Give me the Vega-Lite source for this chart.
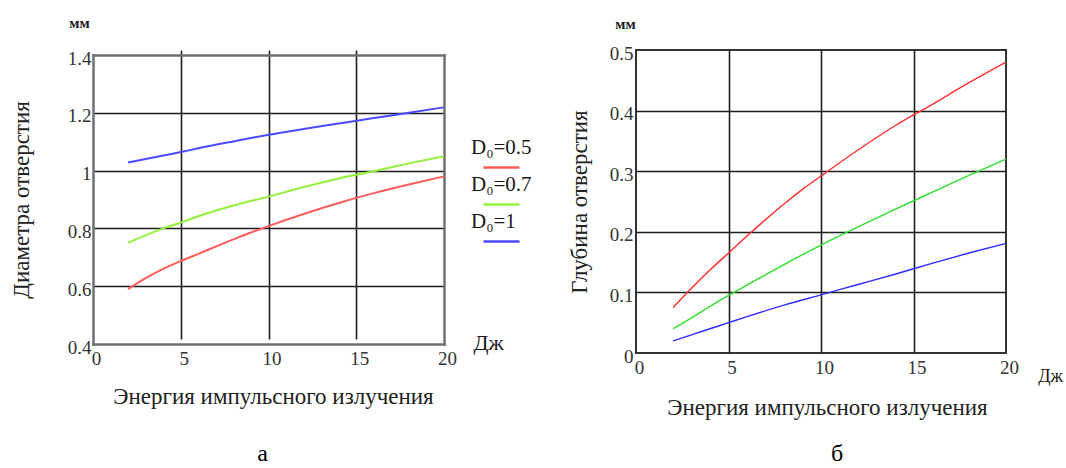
{
  "$schema": "https://vega.github.io/schema/vega-lite/v6.json",
  "background": "white",
  "padding": {"left": 10, "top": 15, "right": 2, "bottom": 0},
  "config": {
    "font": "Liberation Serif",
    "axis": {
      "labelFont": "Liberation Serif",
      "titleFont": "Liberation Serif",
      "titleFontWeight": "normal",
      "labelColor": "#333333",
      "titleColor": "#222222"
    }
  },
  "columns": 2,
  "align": "none",
  "spacing": 35,
  "resolve": {"scale": {"color": "independent"}},
  "concat": [
    {
      "width": 351,
      "height": 294,
      "view": {"stroke": null},
      "title": {"text": "а", "orient": "bottom", "anchor": "middle", "fontSize": 24, "fontWeight": "normal", "font": "Liberation Serif", "color": "#000000", "offset": 34, "dx": -6},
      "data": {"values": [
        {"s": "D₀=0.5", "E": 2, "v": 0.59}, {"s": "D₀=0.5", "E": 3, "v": 0.628}, {"s": "D₀=0.5", "E": 4, "v": 0.66}, {"s": "D₀=0.5", "E": 5, "v": 0.687}, {"s": "D₀=0.5", "E": 6, "v": 0.712}, {"s": "D₀=0.5", "E": 8, "v": 0.762}, {"s": "D₀=0.5", "E": 10, "v": 0.808}, {"s": "D₀=0.5", "E": 12, "v": 0.85}, {"s": "D₀=0.5", "E": 14, "v": 0.888}, {"s": "D₀=0.5", "E": 16, "v": 0.922}, {"s": "D₀=0.5", "E": 18, "v": 0.952}, {"s": "D₀=0.5", "E": 20, "v": 0.98},
        {"s": "D₀=0.7", "E": 2, "v": 0.75}, {"s": "D₀=0.7", "E": 4, "v": 0.8}, {"s": "D₀=0.7", "E": 5, "v": 0.82}, {"s": "D₀=0.7", "E": 6, "v": 0.842}, {"s": "D₀=0.7", "E": 8, "v": 0.879}, {"s": "D₀=0.7", "E": 10, "v": 0.91}, {"s": "D₀=0.7", "E": 12, "v": 0.943}, {"s": "D₀=0.7", "E": 14, "v": 0.973}, {"s": "D₀=0.7", "E": 16, "v": 0.998}, {"s": "D₀=0.7", "E": 18, "v": 1.025}, {"s": "D₀=0.7", "E": 20, "v": 1.05},
        {"s": "D₀=1", "E": 2, "v": 1.028}, {"s": "D₀=1", "E": 4, "v": 1.052}, {"s": "D₀=1", "E": 5, "v": 1.064}, {"s": "D₀=1", "E": 6, "v": 1.077}, {"s": "D₀=1", "E": 8, "v": 1.101}, {"s": "D₀=1", "E": 10, "v": 1.124}, {"s": "D₀=1", "E": 12, "v": 1.144}, {"s": "D₀=1", "E": 14, "v": 1.163}, {"s": "D₀=1", "E": 16, "v": 1.182}, {"s": "D₀=1", "E": 18, "v": 1.2}, {"s": "D₀=1", "E": 20, "v": 1.219}
      ]},
      "layer": [
        {
          "mark": {"type": "line", "interpolate": "monotone", "strokeWidth": 2},
          "encoding": {
            "x": {"field": "E", "type": "quantitative", "scale": {"domain": [0, 20], "nice": false, "zero": false},
              "axis": {"orient": "bottom", "values": [0, 5, 10, 15, 20], "grid": true, "gridColor": "#1e1e1e", "gridWidth": 1.6,
                "gridOpacity": {"condition": {"test": "datum.value == 0 || datum.value == 20", "value": 0}, "value": 1},
                "domain": true, "domainColor": "#707070", "domainWidth": 2.5, "domainCap": "square",
                "ticks": false, "labelFontSize": 19, "labelPadding": 5, "labelOffset": 3, "labelFlush": false,
                "title": "Энергия импульсного излучения", "titleFontSize": 23, "titlePadding": 17, "titleX": 180, "titleAlign": "center"}},
            "y": {"field": "v", "type": "quantitative", "scale": {"domain": [0.4, 1.4], "nice": false, "zero": false, "range": [294, 5]},
              "axis": {"orient": "left", "values": [0.4, 0.6, 0.8, 1, 1.2, 1.4], "format": "~g", "grid": true, "gridColor": "#1e1e1e", "gridWidth": 1.6,
                "gridOpacity": {"condition": {"test": "datum.value < 0.41 || datum.value > 1.39", "value": 0}, "value": 1},
                "domain": true, "domainColor": "#707070", "domainWidth": 2.5, "domainCap": "square",
                "ticks": false, "labelFontSize": 19, "labelPadding": 2, "labelOffset": 3, "labelFlush": false,
                "title": "Диаметра отверстия", "titleFontSize": 23, "titlePadding": 34}},
            "color": {"field": "s", "type": "nominal",
              "scale": {"domain": ["D₀=0.5", "D₀=0.7", "D₀=1"], "range": ["#ff5c5c", "#95f03c", "#4b4bff"]},
              "legend": {"orient": "none", "legendX": 389, "legendY": 98, "title": null, "symbolType": "stroke", "symbolSize": 1296,
                "symbolStrokeWidth": 2.5, "labelFont": "Liberation Serif", "labelFontSize": 21, "labelColor": "#1a1a1a",
                "labelOffset": -50, "labelLimit": 0, "rowPadding": 0, "padding": 0,
                "encode": {"labels": {"update": {"dy": {"value": -20}}}}}}
          }
        },
        {
          "mark": {"type": "line", "opacity": 0},
          "encoding": {
            "x": {"field": "E", "type": "quantitative", "scale": {"domain": [0, 20], "nice": false, "zero": false},
              "axis": {"orient": "top", "offset": -5, "labels": false, "ticks": false, "grid": false,
                "domain": true, "domainColor": "#707070", "domainWidth": 2.5, "domainCap": "square",
                "title": "мм", "titleAngle": 0, "titleX": -14, "titleY": -33, "titleAlign": "center", "titleBaseline": "middle",
                "titleFontSize": 15, "titleFontWeight": "bold", "titleColor": "#1a1a1a"}},
            "y": {"field": "v", "type": "quantitative", "scale": {"domain": [0.4, 1.4], "nice": false, "zero": false, "range": [294, 5]},
              "axis": {"orient": "right", "labels": false, "ticks": false, "grid": false,
                "domain": true, "domainColor": "#707070", "domainWidth": 2.5, "domainCap": "square",
                "title": "Дж", "titleAngle": 0, "titleX": 44, "titleY": 292, "titleAlign": "center", "titleBaseline": "middle",
                "titleFontSize": 22, "titleColor": "#1a1a1a"}},
            "detail": {"field": "s"}
          }
        }
      ],
      "resolve": {"scale": {"x": "independent", "y": "independent"}, "axis": {"x": "independent", "y": "independent"}}
    },
    {
      "width": 370,
      "height": 303,
      "view": {"stroke": "#333333", "strokeWidth": 2},
      "title": {"text": "б", "orient": "bottom", "anchor": "middle", "fontSize": 24, "fontWeight": "normal", "font": "Liberation Serif", "color": "#000000", "offset": 23, "dx": 16},
      "data": {"values": [
        {"s": "D₀=0.5", "E": 2, "v": 0.075}, {"s": "D₀=0.5", "E": 3, "v": 0.107}, {"s": "D₀=0.5", "E": 4, "v": 0.137}, {"s": "D₀=0.5", "E": 5, "v": 0.165}, {"s": "D₀=0.5", "E": 6, "v": 0.193}, {"s": "D₀=0.5", "E": 7, "v": 0.22}, {"s": "D₀=0.5", "E": 8, "v": 0.246}, {"s": "D₀=0.5", "E": 9, "v": 0.27}, {"s": "D₀=0.5", "E": 10, "v": 0.292}, {"s": "D₀=0.5", "E": 12, "v": 0.335}, {"s": "D₀=0.5", "E": 14, "v": 0.375}, {"s": "D₀=0.5", "E": 16, "v": 0.41}, {"s": "D₀=0.5", "E": 18, "v": 0.446}, {"s": "D₀=0.5", "E": 20, "v": 0.48},
        {"s": "D₀=0.7", "E": 2, "v": 0.04}, {"s": "D₀=0.7", "E": 3, "v": 0.058}, {"s": "D₀=0.7", "E": 4, "v": 0.077}, {"s": "D₀=0.7", "E": 5, "v": 0.095}, {"s": "D₀=0.7", "E": 6, "v": 0.112}, {"s": "D₀=0.7", "E": 8, "v": 0.146}, {"s": "D₀=0.7", "E": 10, "v": 0.178}, {"s": "D₀=0.7", "E": 12, "v": 0.208}, {"s": "D₀=0.7", "E": 14, "v": 0.237}, {"s": "D₀=0.7", "E": 16, "v": 0.265}, {"s": "D₀=0.7", "E": 18, "v": 0.293}, {"s": "D₀=0.7", "E": 20, "v": 0.32},
        {"s": "D₀=1", "E": 2, "v": 0.02}, {"s": "D₀=1", "E": 3, "v": 0.03}, {"s": "D₀=1", "E": 4, "v": 0.04}, {"s": "D₀=1", "E": 5, "v": 0.05}, {"s": "D₀=1", "E": 6, "v": 0.06}, {"s": "D₀=1", "E": 8, "v": 0.079}, {"s": "D₀=1", "E": 10, "v": 0.096}, {"s": "D₀=1", "E": 12, "v": 0.113}, {"s": "D₀=1", "E": 14, "v": 0.13}, {"s": "D₀=1", "E": 16, "v": 0.148}, {"s": "D₀=1", "E": 18, "v": 0.165}, {"s": "D₀=1", "E": 20, "v": 0.181}
      ]},
      "layer": [
        {
          "mark": {"type": "line", "interpolate": "monotone", "strokeWidth": 1.4},
          "encoding": {
            "x": {"field": "E", "type": "quantitative", "scale": {"domain": [0, 20], "nice": false, "zero": false},
              "axis": {"orient": "bottom", "values": [0, 5, 10, 15, 20], "grid": true, "gridColor": "#1e1e1e", "gridWidth": 1.6,
                "gridOpacity": {"condition": {"test": "datum.value == 0 || datum.value == 20", "value": 0}, "value": 1},
                "domain": false, "ticks": false, "labelFontSize": 19, "labelPadding": 5, "labelOffset": 3, "labelFlush": false,
                "title": "Энергия импульсного излучения", "titleFontSize": 23, "titlePadding": 19, "titleX": 191, "titleAlign": "center"}},
            "y": {"field": "v", "type": "quantitative", "scale": {"domain": [0, 0.5], "nice": false, "zero": false},
              "axis": {"orient": "left", "values": [0, 0.1, 0.2, 0.3, 0.4, 0.5], "format": "~g", "grid": true, "gridColor": "#1e1e1e", "gridWidth": 1.6,
                "gridOpacity": {"condition": {"test": "datum.value < 0.01 || datum.value > 0.49", "value": 0}, "value": 1},
                "domain": false, "ticks": false, "labelFontSize": 19, "labelPadding": 3, "labelOffset": 3, "labelFlush": false,
                "title": "Глубина отверстия", "titleFontSize": 23, "titlePadding": 18}},
            "color": {"field": "s", "type": "nominal",
              "scale": {"domain": ["D₀=0.5", "D₀=0.7", "D₀=1"], "range": ["#ff2e2e", "#2ee02e", "#2e2eff"]},
              "legend": null}
          }
        },
        {
          "mark": {"type": "line", "opacity": 0},
          "encoding": {
            "x": {"field": "E", "type": "quantitative", "scale": {"domain": [0, 20], "nice": false, "zero": false},
              "axis": {"orient": "top", "labels": false, "ticks": false, "domain": false, "grid": false,
                "title": "мм", "titleAngle": 0, "titleX": -11, "titleY": -27, "titleAlign": "center", "titleBaseline": "middle",
                "titleFontSize": 15, "titleFontWeight": "bold", "titleColor": "#1a1a1a"}},
            "y": {"field": "v", "type": "quantitative", "scale": {"domain": [0, 0.5], "nice": false, "zero": false},
              "axis": {"orient": "right", "labels": false, "ticks": false, "domain": false, "grid": false,
                "title": "Дж", "titleAngle": 0, "titleX": 44, "titleY": 326, "titleAlign": "center", "titleBaseline": "middle",
                "titleFontSize": 18, "titleColor": "#1a1a1a"}},
            "detail": {"field": "s"}
          }
        }
      ],
      "resolve": {"scale": {"x": "independent", "y": "independent"}, "axis": {"x": "independent", "y": "independent"}}
    }
  ]
}
